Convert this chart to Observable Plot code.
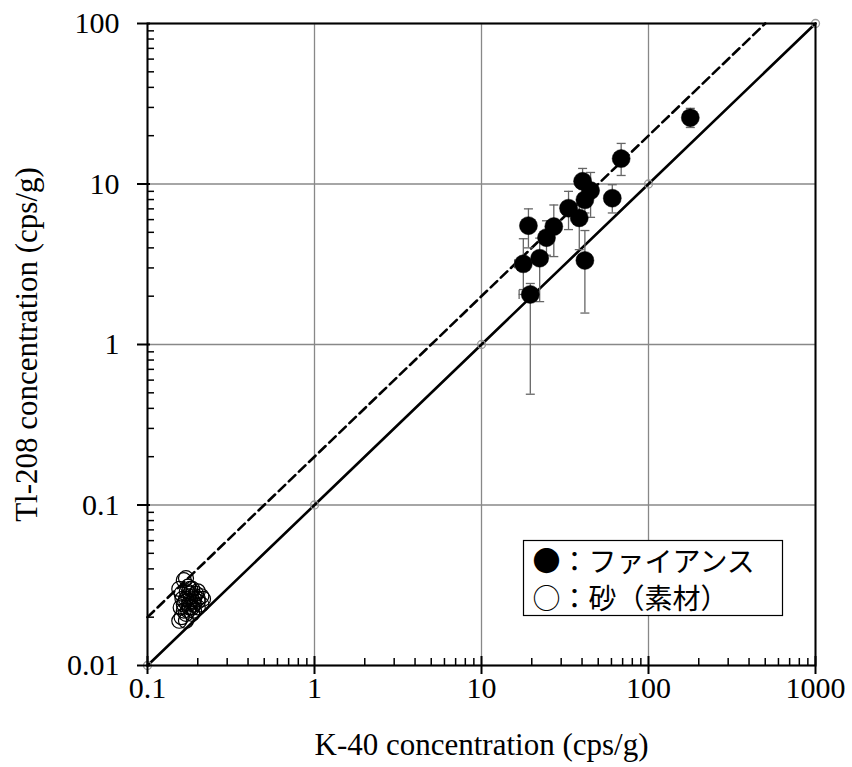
<!DOCTYPE html>
<html>
<head>
<meta charset="utf-8">
<script src="https://cdn.jsdelivr.net/npm/d3@7"></script>
<script src="https://cdn.jsdelivr.net/npm/@observablehq/plot@0.6"></script>
<style>
  html, body { margin: 0; padding: 0; background: #fff; }
  #chart svg { display: block; }
</style>
</head>
<body>
<div id="chart"></div>
<script>
// ---- Data: faience (filled circles) with error bars ----
const faienceK   = [68.6, 40.3, 45.0, 41.6, 60.7, 33.2, 38.5, 27.1, 19.1, 24.5, 22.3, 17.8, 41.6, 19.6, 178];
const faienceTl  = [14.4, 10.4, 9.1, 7.97, 8.16, 7.07, 6.15, 5.43, 5.5, 4.63, 3.45, 3.18, 3.34, 2.05, 25.9];
const faienceTlLow  = [11.3, 8.6, 6.2, 6.6, 6.6, 5.2, 3.9, 3.53, 4.0, 3.6, 1.85, 2.2, 1.57, 0.49, 22.5];
const faienceTlHigh = [17.9, 12.5, 11.8, 9.4, 9.9, 9.0, 7.5, 7.4, 7.0, 5.9, 4.6, 4.56, 5.13, 2.4, 29.6];
const faienceKLow  = [66, 38.5, 43, 40, 58.5, 31.5, 37, 26, 18.2, 23.3, 21.2, 15.8, 40, 16.8, 172];
const faienceKHigh = [71, 42, 47, 43.3, 63, 35, 40, 28.3, 20, 25.7, 23.4, 19.5, 43.3, 21.5, 184];

// ---- Data: sand (open circles) ----
const sandK  = [0.165, 0.17, 0.155, 0.16, 0.175, 0.185, 0.20, 0.21, 0.215, 0.17, 0.18, 0.19, 0.20, 0.165, 0.175, 0.185, 0.16, 0.155, 0.17, 0.19, 0.20, 0.18, 0.165, 0.21, 0.175, 0.19,
                0.172, 0.182, 0.168, 0.178, 0.188, 0.195, 0.162, 0.176, 0.185, 0.17, 0.18, 0.192, 0.158, 0.2];
const sandTl = [0.034, 0.035, 0.030, 0.028, 0.031, 0.030, 0.029, 0.027, 0.026, 0.026, 0.025, 0.024, 0.023, 0.024, 0.022, 0.021, 0.020, 0.019, 0.019, 0.022, 0.025, 0.028, 0.022, 0.024, 0.027, 0.026,
                0.029, 0.027, 0.025, 0.023, 0.025, 0.028, 0.026, 0.024, 0.023, 0.021, 0.030, 0.027, 0.023, 0.026];

// ---- Reference lines ----
const oneToOneK = [0.1, 1, 10, 100, 1000];
const oneToOneTl = [0.01, 0.1, 1, 10, 100];
const twoToOneK = [0.1, 500];
const twoToOneTl = [0.02, 100];

// ---- Tick labels ----
const xTicks = [0.1, 1, 10, 100, 1000];
const xTickLabels = ["0.1", "1", "10", "100", "1000"];
const yTicks = [0.01, 0.1, 1, 10, 100];
const yTickLabels = ["0.01", "0.1", "1", "10", "100"];

const legendLabels = ["●：ファイアンス", "○：砂（素材）"];
const xTitle = "K-40 concentration (cps/g)";
const yTitle = "Tl-208 concentration (cps/g)";

const faience = faienceK.map((k, i) => ({k, tl: faienceTl[i], lo: faienceTlLow[i], hi: faienceTlHigh[i], klo: faienceKLow[i], khi: faienceKHigh[i]}));
const sand = sandK.map((k, i) => ({k, tl: sandTl[i]}));
const ref1 = oneToOneK.map((k, i) => ({k, tl: oneToOneTl[i]}));
const ref2 = twoToOneK.map((k, i) => ({k, tl: twoToOneTl[i]}));
const xLabelMap = new Map(xTicks.map((t, i) => [t, xTickLabels[i]]));
const yLabelMap = new Map(yTicks.map((t, i) => [t, yTickLabels[i]]));

// minor ticks (2..9 within each decade)
const minorX = [];
for (const d of [0.1, 1, 10, 100]) for (let m = 2; m <= 9; m++) minorX.push(+(d * m).toPrecision(3));
const minorY = [];
for (const d of [0.01, 0.1, 1, 10]) for (let m = 2; m <= 9; m++) minorY.push(+(d * m).toPrecision(3));

const W = 852, H = 767;
const mL = 147, mR = 37, mT = 23, mB = 102;
const plotW = W - mL - mR, plotH = H - mT - mB;

const hCap = {draw(ctx, size) { const r = 4.5; ctx.moveTo(-r, 0); ctx.lineTo(r, 0); }};
const vCap = {draw(ctx, size) { const r = 4.5; ctx.moveTo(0, -r); ctx.lineTo(0, r); }};

const fontSerif = "'Liberation Serif', 'DejaVu Serif', serif";
const fontCJK = "'Noto Sans CJK JP', 'Noto Sans', sans-serif";

const chart = Plot.plot({
  width: W, height: H,
  marginLeft: mL, marginRight: mR, marginTop: mT, marginBottom: mB,
  style: {fontFamily: fontSerif, fontSize: "30px", color: "#000", background: "#fff"},
  x: {type: "log", domain: [0.1, 1000]},
  y: {type: "log", domain: [0.01, 100]},
  marks: [
    // grid
    Plot.ruleX(xTicks, {stroke: "#888", strokeWidth: 1.3}),
    Plot.ruleY(yTicks, {stroke: "#888", strokeWidth: 1.3}),
    // reference lines
    Plot.line(ref2, {x: "k", y: "tl", stroke: "#000", strokeWidth: 2.6, strokeDasharray: "9,5"}),
    Plot.line(ref1, {x: "k", y: "tl", stroke: "#000", strokeWidth: 2.6}),
    Plot.dot(ref1, {x: "k", y: "tl", r: 4, stroke: "#999", strokeWidth: 1.3, fill: "none"}),
    // sand
    Plot.dot(sand, {x: "k", y: "tl", r: 7.5, stroke: "#000", strokeWidth: 1.2, fill: "none"}),
    // error bars faience
    Plot.ruleX(faience, {x: "k", y1: "lo", y2: "hi", stroke: "#666", strokeWidth: 1.3}),
    Plot.dot(faience, {x: "k", y: "lo", symbol: hCap, r: 4.5, stroke: "#666", strokeWidth: 1.3, fill: "none"}),
    Plot.dot(faience, {x: "k", y: "hi", symbol: hCap, r: 4.5, stroke: "#666", strokeWidth: 1.3, fill: "none"}),
    Plot.ruleY(faience, {y: "tl", x1: "klo", x2: "khi", stroke: "#666", strokeWidth: 1.3}),
    Plot.dot(faience, {x: "klo", y: "tl", symbol: vCap, r: 4.5, stroke: "#666", strokeWidth: 1.3, fill: "none"}),
    Plot.dot(faience, {x: "khi", y: "tl", symbol: vCap, r: 4.5, stroke: "#666", strokeWidth: 1.3, fill: "none"}),
    Plot.dot(faience, {x: "k", y: "tl", r: 9, fill: "#000", stroke: "#000", strokeWidth: 0.5}),
    // frame
    Plot.frame({stroke: "#000", strokeWidth: 2}),
    // minor ticks inward
    Plot.tickX(minorX, {x: d => d, insetTop: plotH - 7, stroke: "#000", strokeWidth: 1.5}),
    Plot.tickY(minorY, {y: d => d, insetRight: plotW - 7, stroke: "#000", strokeWidth: 1.5}),
    // major ticks inward
    Plot.tickX(xTicks, {x: d => d, insetTop: plotH - 9, stroke: "#000", strokeWidth: 2}),
    Plot.tickY(yTicks, {y: d => d, insetRight: plotW - 3, stroke: "#000", strokeWidth: 2}),
    // axes
    Plot.axisX({ticks: xTicks, tickFormat: d => xLabelMap.get(d), tickSize: 9, tickPadding: 2, strokeWidth: 2, fontSize: 30, label: null}),
    Plot.axisY({ticks: yTicks, tickFormat: d => yLabelMap.get(d), tickSize: 10, tickPadding: 18, strokeWidth: 2, fontSize: 30, label: null}),
    // axis titles
    Plot.text([xTitle], {frameAnchor: "bottom", dy: 80, fontSize: 31, fill: "#000", textAnchor: "middle", lineAnchor: "middle"}),
    Plot.text([yTitle], {frameAnchor: "left", dx: -120, rotate: -90, fontSize: 31, fill: "#000", textAnchor: "middle", lineAnchor: "middle"}),
    // legend
    Plot.frame({stroke: "#000", strokeWidth: 1.2, fill: "#fff", insetLeft: 376, insetRight: 33, insetTop: 517, insetBottom: 50}),
    Plot.text([legendLabels[0]], {frameAnchor: "top-left", dx: 385, dy: 540, fontSize: 28, fontFamily: fontCJK, textAnchor: "start", lineAnchor: "middle", fill: "#000"}),
    Plot.text([legendLabels[1]], {frameAnchor: "top-left", dx: 385, dy: 577, fontSize: 28, fontFamily: fontCJK, textAnchor: "start", lineAnchor: "middle", fill: "#000"})
  ]
});
document.getElementById("chart").appendChild(chart);
</script>
</body>
</html>
